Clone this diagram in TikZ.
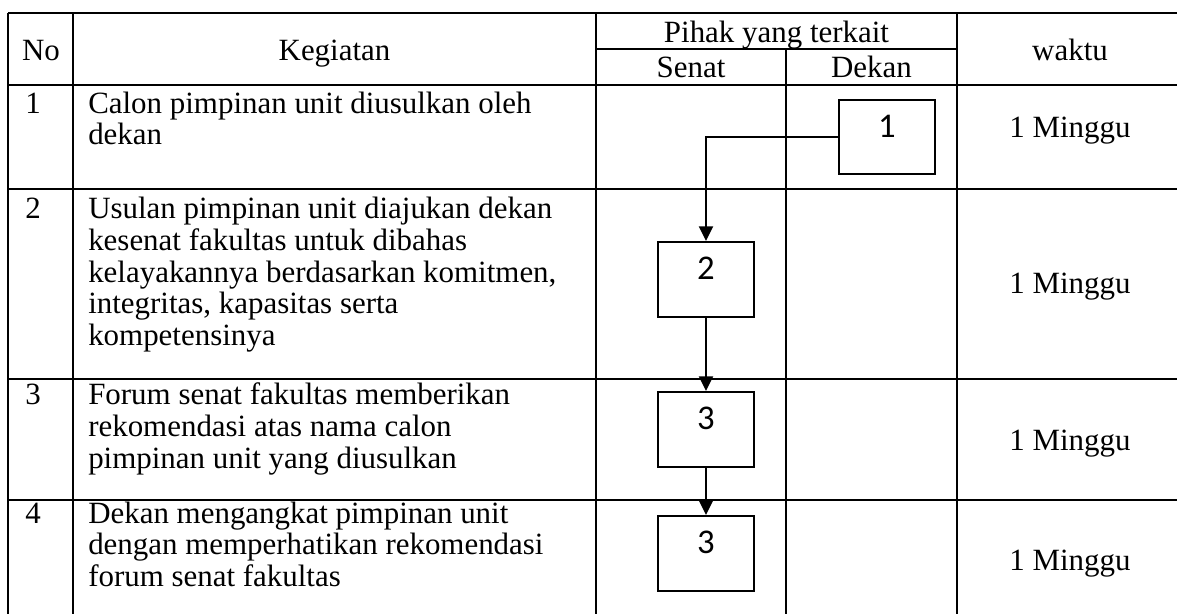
\documentclass[tikz,border=0pt]{standalone}
\usepackage{fontspec}
\setmainfont{Liberation Serif}
\newfontfamily\boxfont{Carlito}
\usetikzlibrary{arrows.meta}

\begin{document}
\begin{tikzpicture}[x=0.75pt, y=-0.75pt,
	every node/.style={inner sep=0pt, font=\fontsize{23.2}{23.8}\selectfont},
	grid/.style={draw=black, line width=0.8pt},
	cell/.style={anchor=north west, align=left},
	box/.style={rectangle, draw=black, line width=1.5pt, minimum width=72pt, font=\boxfont\fontsize{26}{26}\selectfont, text height=28.3pt, text depth=27.9pt},
	flow/.style={draw=black, line width=1.5pt, -{Triangle[width=10.5pt, length=11pt]}}]
			\fontsize{23.2}{23.8}\selectfont
			\useasboundingbox (0,0) rectangle (1177,614);
			
			\draw[grid] (8,13) -- (1177,13);
			\draw[grid] (596,49) -- (957,49);
			\draw[grid] (8,85) -- (1177,85);
			\draw[grid] (8,189) -- (1177,189);
			\draw[grid] (8,379) -- (1177,379);
			\draw[grid] (8,500) -- (1177,500);
			\draw[grid] (8,13) -- (8,614);
			\draw[grid] (73,13) -- (73,614);
			\draw[grid] (596,13) -- (596,614);
			\draw[grid] (786,49) -- (786,614);
			\draw[grid] (957,13) -- (957,614);
			
			\node[anchor=base] (no) at (41,60) {No};
			\node[anchor=base] (keg) at (334.5,60) {Kegiatan};
			\node[anchor=base] (pihak) at (776.5,42) {Pihak yang terkait};
			\node[anchor=base] (senat) at (691,77) {Senat};
			\node[anchor=base] (dekan) at (871.5,77) {Dekan};
			\node[anchor=base] (waktu) at (1070,60) {waktu};
			
			\node[anchor=base west] (n1) at (25,113) {1};
			\node[anchor=base west] (n2) at (25,218) {2};
			\node[anchor=base west] (n3) at (25,404) {3};
			\node[anchor=base west] (n4) at (25,523) {4};
			
			\node[cell] (k1) at (88,91.5) {Calon pimpinan unit diusulkan oleh\\dekan};
			\node[cell] (k2) at (88,196.8) {Usulan pimpinan unit diajukan dekan\\kesenat fakultas untuk dibahas\\kelayakannya berdasarkan komitmen,\\integritas, kapasitas serta\\kompetensinya};
			\node[cell] (k3) at (88,382.5) {Forum senat fakultas memberikan\\rekomendasi atas nama calon\\pimpinan unit yang diusulkan};
			\node[cell] (k4) at (88,501.5) {Dekan mengangkat pimpinan unit\\dengan memperhatikan rekomendasi\\forum senat fakultas};
			
			\node[anchor=base] (w1) at (1070,137) {1 Minggu};
			\node[anchor=base] (w2) at (1070,293) {1 Minggu};
			\node[anchor=base] (w3) at (1070,450) {1 Minggu};
			\node[anchor=base] (w4) at (1070,570) {1 Minggu};
			
			\node[box] (b1) at (887,137) {1};
			\node[box] (b2) at (706,279.5) {2};
			\node[box] (b3) at (706,429.5) {3};
			\node[box] (b4) at (706,553.5) {3};
			
			\path[flow] (b1.west) -| (b2.north);
			\path[flow] (b2) -- (b3);
			\path[flow] (b3) -- (b4);
			\end{tikzpicture}
\end{document}
